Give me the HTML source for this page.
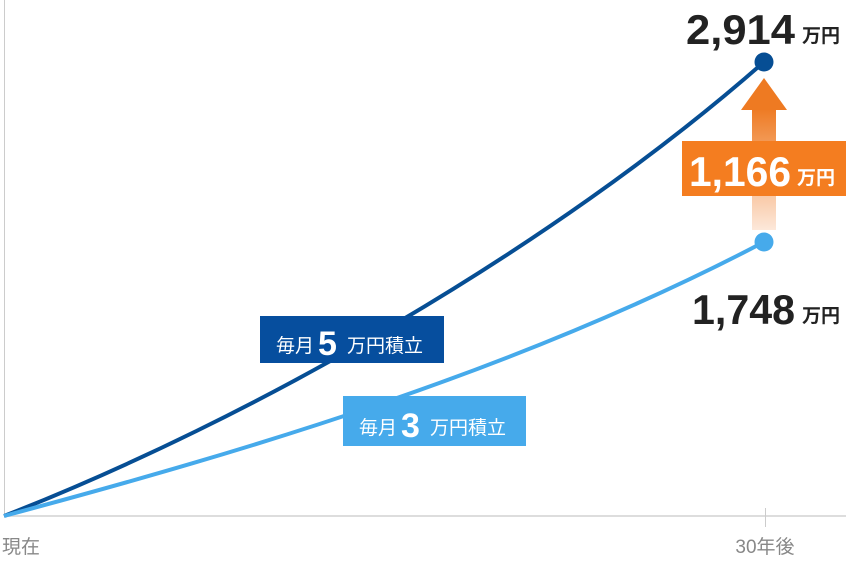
<!DOCTYPE html>
<html><head><meta charset="utf-8"><style>
body{margin:0;background:#fff;}
svg{display:block}
text{font-family:"Liberation Sans","Noto Sans CJK JP",sans-serif;}
</style></head><body>
<svg width="846" height="564" viewBox="0 0 846 564">
<defs>
<linearGradient id="g" x1="0" y1="0" x2="0" y2="1">
<stop offset="0" stop-color="#ee7a22"/>
<stop offset="1" stop-color="#fde8da"/>
</linearGradient>
</defs>
<line x1="4.5" y1="0" x2="4.5" y2="516" stroke="#ccc" stroke-width="1"/>
<line x1="4" y1="516" x2="846" y2="516" stroke="#ddd" stroke-width="2"/>
<line x1="765.5" y1="508" x2="765.5" y2="527" stroke="#ccc" stroke-width="1"/>
<text x="2" y="553" font-size="19" fill="#888">現在</text>
<text x="765" y="553" font-size="19" fill="#888" text-anchor="middle">30年後</text>
<path d="M4,516 C250,420 550,250 764,62" fill="none" stroke="#064e94" stroke-width="4"/>
<path d="M4,516 C250,450 520,370 764,242" fill="none" stroke="#46aaeb" stroke-width="4"/>
<circle cx="764" cy="62" r="9.5" fill="#064e94"/>
<circle cx="764" cy="242" r="9.5" fill="#46aaeb"/>
<rect x="752" y="108" width="24" height="122" fill="url(#g)"/>
<polygon points="764,78 787,110 741,110" fill="#ee7a22"/>
<rect x="682" y="141" width="164" height="55" fill="#f47d20"/>
<text x="689" y="186" font-size="42" font-weight="bold" fill="#fff" textLength="102" lengthAdjust="spacingAndGlyphs">1,166</text>
<text x="797" y="184" font-size="19" font-weight="bold" fill="#fff">万円</text>
<text x="686" y="44" font-size="42" font-weight="bold" fill="#222" textLength="109" lengthAdjust="spacingAndGlyphs">2,914</text>
<text x="802" y="42" font-size="19" font-weight="bold" fill="#222">万円</text>
<text x="692" y="324" font-size="42" font-weight="bold" fill="#222" textLength="103" lengthAdjust="spacingAndGlyphs">1,748</text>
<text x="802" y="322" font-size="19" font-weight="bold" fill="#222">万円</text>
<rect x="260" y="316" width="184" height="47" fill="#064e9e"/>
<text x="276" y="352" font-size="19" fill="#fff">毎月</text>
<text x="318" y="355" font-size="34" font-weight="bold" fill="#fff">5</text>
<text x="347" y="352" font-size="19" fill="#fff">万円積立</text>
<rect x="343" y="396" width="183" height="50" fill="#46aaeb"/>
<text x="359" y="434" font-size="19" fill="#fff">毎月</text>
<text x="401" y="437" font-size="34" font-weight="bold" fill="#fff">3</text>
<text x="430" y="434" font-size="19" fill="#fff">万円積立</text>
</svg>
</body></html>
